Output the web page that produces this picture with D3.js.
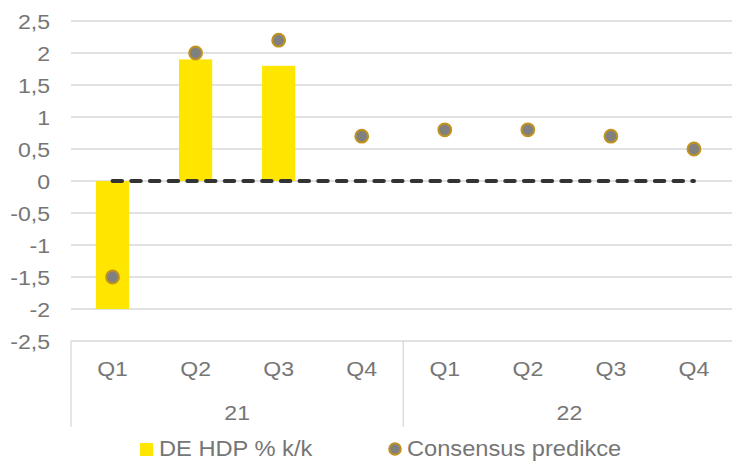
<!DOCTYPE html>
<html>
<head>
<meta charset="utf-8">
<script src="https://cdn.jsdelivr.net/npm/d3@7"></script>
<style>
  html, body { margin: 0; padding: 0; background: #fff; }
  svg { display: block; }
  text { font-family: "Liberation Sans", Arial, sans-serif; fill: #767676; }
</style>
</head>
<body>
<svg id="chart" width="732" height="462"></svg>
<script>
// Quarterly German GDP growth (% q/q) and the consensus forecast
const years = ["21", "22"];
const quarters = ["Q1", "Q2", "Q3", "Q4"];
const categories = ["21-Q1", "21-Q2", "21-Q3", "21-Q4", "22-Q1", "22-Q2", "22-Q3", "22-Q4"];
const gdpValues = [-2.0, 1.9, 1.8, null, null, null, null, null];
const consensusValues = [-1.5, 2.0, 2.2, 0.7, 0.8, 0.8, 0.7, 0.5];
const yTicks = [-2.5, -2, -1.5, -1, -0.5, 0, 0.5, 1, 1.5, 2, 2.5];
const seriesNames = ["DE HDP % k/k", "Consensus predikce"];

const svg = d3.select("#chart");
const plot = { left: 71, right: 735.5, top: 21, bottom: 341 };
const axisBottom = 427;
const stretch = "scale(1.1,1)";   // slightly wide lettering

const x = d3.scaleBand().domain(categories).range([plot.left, plot.right]).padding(0);
const y = d3.scaleLinear().domain([-2.5, 2.5]).range([plot.bottom, plot.top]);
const fmt = v => String(v).replace(".", ",");

// place a text node at (px, py) with the wide lettering
const placeText = (sel, px, py) =>
  sel.attr("x", 0).attr("y", 0)
     .attr("transform", (d, i) => `translate(${typeof px === "function" ? px(d, i) : px},${typeof py === "function" ? py(d, i) : py}) ${stretch}`);

// horizontal gridlines
svg.append("g")
  .selectAll("line")
  .data(yTicks)
  .join("line")
  .attr("x1", plot.left).attr("x2", 732)
  .attr("y1", d => y(d)).attr("y2", d => y(d))
  .attr("stroke", "#d9d9d9").attr("stroke-width", 1.3);

// y-axis labels
const yAxis = d3.axisLeft(y).tickValues(yTicks).tickFormat(fmt).tickSize(0).tickPadding(0);
svg.append("g")
  .attr("transform", "translate(50,0)")
  .call(yAxis)
  .call(g => g.select(".domain").remove())
  .call(g => g.selectAll("text")
    .attr("font-size", 21)
    .attr("font-family", "Liberation Sans, Arial, sans-serif")
    .attr("fill", "#767676")
    .attr("x", 0)
    .attr("dy", "0.36em")
    .attr("transform", stretch));

// category axis: group separators
const groupEdges = [categories[0], categories[4]].map(c => x(c)).concat([plot.right]);
svg.append("g")
  .selectAll("line")
  .data(groupEdges)
  .join("line")
  .attr("x1", d => d).attr("x2", d => d)
  .attr("y1", plot.bottom).attr("y2", axisBottom)
  .attr("stroke", "#d9d9d9").attr("stroke-width", 1.3);

// quarter labels
svg.append("g")
  .selectAll("text")
  .data(categories)
  .join("text")
  .call(placeText, d => x(d) + x.bandwidth() / 2, 376)
  .attr("text-anchor", "middle")
  .attr("font-size", 21)
  .text(d => d.split("-")[1]);

// year labels
svg.append("g")
  .selectAll("text")
  .data(years)
  .join("text")
  .call(placeText, d => (x(d + "-Q1") + x(d + "-Q4") + x.bandwidth()) / 2, 420)
  .attr("text-anchor", "middle")
  .attr("font-size", 21)
  .text(d => d);

// GDP bars
const barW = x.bandwidth() * 0.4;
svg.append("g")
  .selectAll("rect")
  .data(categories.map((c, i) => ({ c, v: gdpValues[i] })).filter(d => d.v !== null))
  .join("rect")
  .attr("x", d => x(d.c) + (x.bandwidth() - barW) / 2)
  .attr("width", barW)
  .attr("y", d => y(Math.max(0, d.v)))
  .attr("height", d => Math.abs(y(d.v) - y(0)))
  .attr("fill", "#ffe600");

// dashed zero line across the categories
svg.append("line")
  .attr("x1", x(categories[0]) + x.bandwidth() / 2)
  .attr("x2", x(categories[categories.length - 1]) + x.bandwidth() / 2)
  .attr("y1", y(0)).attr("y2", y(0))
  .attr("stroke", "#333333")
  .attr("stroke-width", 4)
  .attr("stroke-linecap", "round")
  .attr("stroke-dasharray", "9.5,9.2");

// consensus markers
svg.append("g")
  .selectAll("circle")
  .data(categories.map((c, i) => ({ c, v: consensusValues[i] })))
  .join("circle")
  .attr("cx", d => x(d.c) + x.bandwidth() / 2)
  .attr("cy", d => y(d.v))
  .attr("r", 6.4)
  .attr("fill", "#808080")
  .attr("stroke", "#c0931f")
  .attr("stroke-width", 2);

// legend
const legend = svg.append("g");
legend.append("rect")
  .attr("x", 140).attr("y", 443).attr("width", 13).attr("height", 13)
  .attr("fill", "#ffe600");
legend.append("text")
  .datum(seriesNames[0])
  .call(placeText, 159, 456)
  .attr("font-size", 21.5)
  .text(d => d);
legend.append("circle")
  .attr("cx", 395).attr("cy", 449).attr("r", 5.8)
  .attr("fill", "#808080").attr("stroke", "#c0931f").attr("stroke-width", 2);
legend.append("text")
  .datum(seriesNames[1])
  .call(placeText, 407, 456)
  .attr("font-size", 21.5)
  .text(d => d);
</script>
</body>
</html>
